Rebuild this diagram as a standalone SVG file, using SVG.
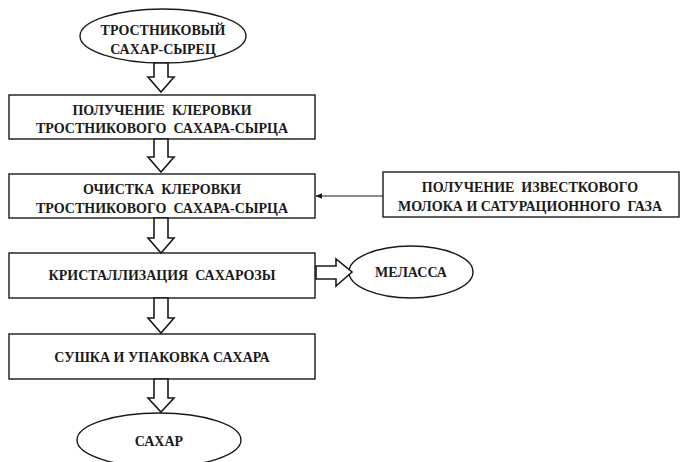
<svg xmlns="http://www.w3.org/2000/svg" width="683" height="462" viewBox="0 0 683 462">
  <style>
    .shape { fill: #ffffff; stroke: #1a1a1a; stroke-width: 1.4; }
    .lbl { font-family: "Liberation Serif", "DejaVu Serif", serif; font-weight: bold; font-size: 14px; fill: #1a1a1a; text-anchor: middle; white-space: pre; }
    .hollow { fill: #ffffff; stroke: #1a1a1a; stroke-width: 1.6; stroke-linejoin: miter; }
    .line { fill: none; stroke: #1a1a1a; stroke-width: 1.2; }
  </style>
  <defs>
    <marker id="tip" viewBox="0 0 10 10" refX="9" refY="5" markerWidth="6" markerHeight="6" orient="auto">
      <path d="M0,1 L10,5 L0,9 Z" fill="#1a1a1a"/>
    </marker>
  </defs>
  <rect width="683" height="462" fill="#ffffff"/>

  <g id="raw-sugar">
    <ellipse class="shape" cx="163" cy="36" rx="83" ry="27"/>
    <text class="lbl" x="163" y="35">ТРОСТНИКОВЫЙ</text>
    <text class="lbl" x="163" y="54">САХАР-СЫРЕЦ</text>
  </g>

  <g id="clearing-prep">
    <rect class="shape" x="9" y="95" width="306" height="44"/>
    <text class="lbl" x="162" y="115" xml:space="preserve">ПОЛУЧЕНИЕ  КЛЕРОВКИ</text>
    <text class="lbl" x="162" y="133" xml:space="preserve">ТРОСТНИКОВОГО  САХАРА-СЫРЦА</text>
  </g>

  <g id="clearing-purify">
    <rect class="shape" x="9" y="174" width="306" height="44"/>
    <text class="lbl" x="162" y="194" xml:space="preserve">ОЧИСТКА  КЛЕРОВКИ</text>
    <text class="lbl" x="162" y="213" xml:space="preserve">ТРОСТНИКОВОГО  САХАРА-СЫРЦА</text>
  </g>

  <g id="lime-gas">
    <rect class="shape" x="383" y="172" width="296" height="45"/>
    <text class="lbl" x="530" y="192" xml:space="preserve">ПОЛУЧЕНИЕ  ИЗВЕСТКОВОГО</text>
    <text class="lbl" x="530" y="211" xml:space="preserve">МОЛОКА И САТУРАЦИОННОГО  ГАЗА</text>
  </g>

  <g id="crystallization">
    <rect class="shape" x="9" y="253" width="306" height="45"/>
    <text class="lbl" x="162" y="280" xml:space="preserve">КРИСТАЛЛИЗАЦИЯ  САХАРОЗЫ</text>
  </g>

  <g id="molasses">
    <ellipse class="shape" cx="411" cy="272" rx="62" ry="26"/>
    <text class="lbl" x="411" y="277">МЕЛАССА</text>
  </g>

  <g id="drying-packing">
    <rect class="shape" x="9" y="334" width="306" height="45"/>
    <text class="lbl" x="162" y="362">СУШКА И УПАКОВКА САХАРА</text>
  </g>

  <g id="sugar">
    <ellipse class="shape" cx="159" cy="440" rx="82" ry="27"/>
    <text class="lbl" x="159" y="446">САХАР</text>
  </g>

  <g id="connectors">
    <!-- hollow block arrows downwards -->
    <path class="hollow" d="M154,63 L168,63 L168,77 L174,77 L161,92 L148,77 L154,77 Z"/>
    <path class="hollow" d="M154,139 L168,139 L168,157 L174,157 L161,172 L148,157 L154,157 Z"/>
    <path class="hollow" d="M154,218 L168,218 L168,238 L174,238 L161,253 L148,238 L154,238 Z"/>
    <path class="hollow" d="M154,298 L168,298 L168,318 L174,318 L161,333 L148,318 L154,318 Z"/>
    <path class="hollow" d="M154,379 L168,379 L168,398 L174,398 L161,412 L148,398 L154,398 Z"/>
    <!-- hollow block arrow to molasses -->
    <path class="hollow" d="M316,266 L336,266 L336,259 L352,272 L336,286 L336,279 L316,279 Z"/>
    <!-- thin feed line into purification -->
    <line class="line" x1="383" y1="196" x2="316" y2="196" marker-end="url(#tip)"/>
  </g>
</svg>
